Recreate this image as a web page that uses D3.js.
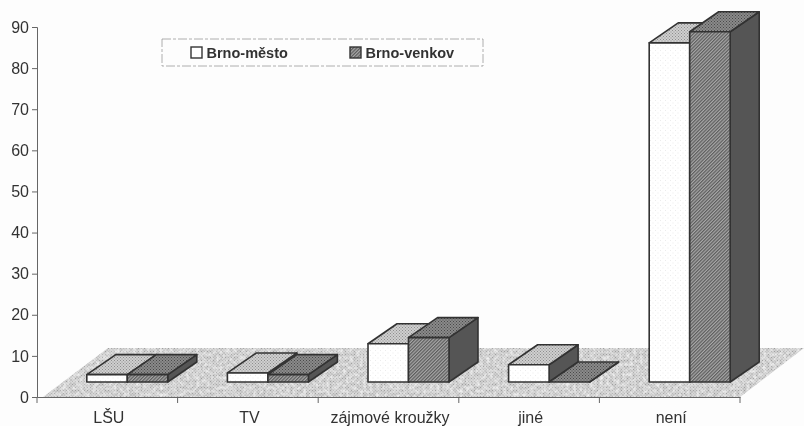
<!DOCTYPE html>
<html>
<head>
<meta charset="utf-8">
<script src="https://cdn.jsdelivr.net/npm/d3@7/dist/d3.min.js"></script>
<style>
html, body { margin: 0; padding: 0; background: #fdfdfd; }
text { font-family: "Liberation Sans", Arial, sans-serif; fill: #333; }
</style>
</head>
<body>
<svg id="graph"></svg>
<script>
var categories = ["LŠU", "TV", "zájmové kroužky", "jiné", "není"];
var mesto = [1.8, 2.2, 9.3, 4.2, 82.5];
var venkov = [1.8, 1.8, 10.8, 0, 85.2];
var seriesNames = ["Brno-město", "Brno-venkov"];
var yTicks = [0, 10, 20, 30, 40, 50, 60, 70, 80, 90];

var width = 804, height = 426;
var axisLeft = 37, axisRight = 740, axisY = 397, topY = 27;
var barW = 40.5;
// floor depth, bar position on the floor, bar depth
var floorDx = 65, floorDy = -49;
var baseDx = 20, baseDy = -15;
var barDx = 29, barDy = -20;

var svg = d3.select("#graph").attr("width", width).attr("height", height)
	.style("display", "block");

var defs = svg.append("defs");

function dotPattern(id, bg, dot, size, r){
	var p = defs.append("pattern").attr("id", id)
		.attr("width", size).attr("height", size)
		.attr("patternUnits", "userSpaceOnUse");
	p.append("rect").attr("width", size).attr("height", size).attr("fill", bg);
	p.append("rect").attr("width", r).attr("height", r).attr("fill", dot);
	p.append("rect").attr("x", size/2).attr("y", size/2).attr("width", r).attr("height", r).attr("fill", dot);
}

function hatchPattern(id, bg, line, size){
	var p = defs.append("pattern").attr("id", id)
		.attr("width", size).attr("height", size)
		.attr("patternUnits", "userSpaceOnUse")
		.attr("patternTransform", "rotate(45)");
	p.append("rect").attr("width", size).attr("height", size).attr("fill", bg);
	p.append("rect").attr("width", size/2).attr("height", size).attr("fill", line);
}

dotPattern("floorFill", "#cecece", "#a0a0a0", 3, 1);
dotPattern("whiteTop", "#cfcfcf", "#8e8e8e", 3, 1);
dotPattern("whiteFront", "#ffffff", "#ececec", 5, 1);
dotPattern("darkTop", "#8a8a8a", "#4a4a4a", 3, 1);
hatchPattern("darkFront", "#a8a8a8", "#5c5c5c", 2.4);

// grain for the floor so it looks scanned
var grain = defs.append("filter").attr("id", "grain")
	.attr("x", 0).attr("y", 0).attr("width", 1).attr("height", 1);
grain.append("feTurbulence").attr("type", "fractalNoise")
	.attr("baseFrequency", 0.3).attr("numOctaves", 2).attr("seed", 4).attr("result", "n");
grain.append("feColorMatrix").attr("in", "n").attr("type", "matrix")
	.attr("values", "0 0 0 0 1  0 0 0 0 1  0 0 0 0 1  1.4 0 0 0 -0.5").attr("result", "w");
grain.append("feComposite").attr("in", "w").attr("in2", "SourceGraphic").attr("operator", "in").attr("result", "wc");
grain.append("feMerge").selectAll("feMergeNode")
	.data(["SourceGraphic", "wc"]).enter().append("feMergeNode").attr("in", function(d){return d});

var soft = defs.append("filter").attr("id", "soft");
soft.append("feGaussianBlur").attr("stdDeviation", 0.5);

var chart = svg.append("g").attr("filter", "url(#soft)");

var xScale = d3.scaleBand().domain(categories).range([axisLeft, axisRight]);
var yScale = d3.scaleLinear().domain([0, 90]).range([axisY, topY]);

function poly(points){
	return points.map(function(p){return p.join(",")}).join(" ");
}

// floor
chart.append("polygon")
	.attr("points", poly([
		[axisLeft + 6, axisY],
		[axisLeft + 6 + floorDx, axisY + floorDy],
		[axisRight + floorDx - 1, axisY + floorDy],
		[axisRight, axisY]
	]))
	.attr("fill", "url(#floorFill)")
	.attr("filter", "url(#grain)");

// axes
var yAxis = d3.axisLeft(yScale).tickValues(yTicks).tickSize(5).tickPadding(6);
var yG = chart.append("g").attr("transform", "translate(" + axisLeft + ",0)").call(yAxis);
yG.selectAll("text").style("font-size", "16px").attr("dx", "3px");

var xAxis = d3.axisBottom(xScale).tickSize(0).tickPadding(15);
var xG = chart.append("g").attr("transform", "translate(0," + axisY + ")").call(xAxis);
xG.selectAll("text").style("font-size", "16px").attr("dx", "1.5px");

xG.selectAll(".boundary")
	.data(d3.range(categories.length + 1))
	.enter().append("line")
	.attr("class", "boundary")
	.attr("x1", function(i){return axisLeft + i * xScale.step()})
	.attr("x2", function(i){return axisLeft + i * xScale.step()})
	.attr("y1", 0).attr("y2", 6);

chart.selectAll(".domain, .tick line, .boundary")
	.attr("stroke", "#666").attr("stroke-width", 1);

// bars
function drawBar(g, x0, value, fills){
	var y0 = axisY + baseDy;
	var top = y0 - (axisY - yScale(value));
	var x1 = x0 + barW;
	var line = {stroke: "#333", width: 1.6};

	function face(points, fill){
		g.append("polygon")
			.attr("points", poly(points))
			.attr("fill", fill)
			.attr("stroke", line.stroke)
			.attr("stroke-width", line.width)
			.attr("stroke-linejoin", "round");
	}

	face([[x1, y0], [x1 + barDx, y0 + barDy], [x1 + barDx, top + barDy], [x1, top]], fills.side);
	face([[x0, top], [x0 + barDx, top + barDy], [x1 + barDx, top + barDy], [x1, top]], fills.top);
	if (value > 0) face([[x0, y0], [x0, top], [x1, top], [x1, y0]], fills.front);
}

var bars = chart.append("g");
var whiteFills = {front: "url(#whiteFront)", top: "url(#whiteTop)", side: "#555"};
var darkFills = {front: "url(#darkFront)", top: "url(#darkTop)", side: "#555"};

categories.forEach(function(c, i){
	var mid = xScale(c) + xScale.bandwidth()/2 + baseDx;
	drawBar(bars, mid - barW, mesto[i], whiteFills);
	drawBar(bars, mid, venkov[i], darkFills);
});

// legend
var legend = chart.append("g");
legend.append("rect")
	.attr("x", 162).attr("y", 39).attr("width", 321).attr("height", 27)
	.attr("fill", "none").attr("stroke", "#999").attr("stroke-width", 0.8)
	.attr("stroke-dasharray", "9 2 3 2");

var legendX = [191, 350];
var legendFill = ["#ffffff", "url(#darkFront)"];
seriesNames.forEach(function(name, i){
	legend.append("rect")
		.attr("x", legendX[i]).attr("y", 47).attr("width", 11).attr("height", 11)
		.attr("fill", legendFill[i]).attr("stroke", "#333").attr("stroke-width", 1.4);
	legend.append("text")
		.attr("x", legendX[i] + 15.5).attr("y", 57.5)
		.style("font-size", "14.5px").style("font-weight", "bold")
		.text(name);
});
</script>
</body>
</html>
